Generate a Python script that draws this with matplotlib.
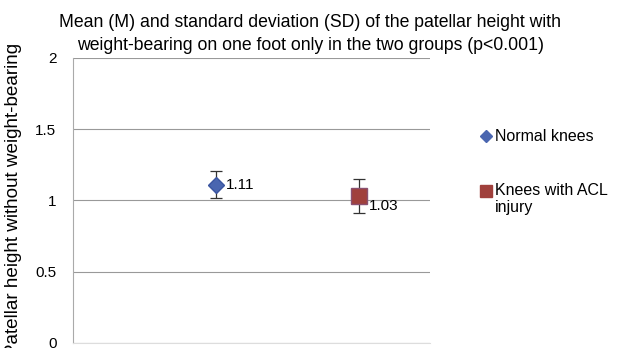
import matplotlib.pyplot as plt
from matplotlib.lines import Line2D

plt.rcParams['font.family'] = ['Liberation Sans', 'DejaVu Sans']

groups = ['Normal knees', 'Knees with ACL\ninjury']
means = [1.11, 1.03]
sds = [0.095, 0.12]
xpos = [1, 2]
labels = ['1.11', '1.03']

fig = plt.figure(figsize=(6.19, 3.48), dpi=100)
ax = fig.add_axes([0.118, 0.0144, 0.577, 0.819])

styles = [dict(marker='D', color='#4a66b0', mec='#3a55a0', ms=8),
          dict(marker='s', color='#a0403c', mec='#8a5070', ms=11)]

for x, m, s, st in zip(xpos, means, sds, styles):
    ax.errorbar(x, m, yerr=s, fmt='none', ecolor='#333333', elinewidth=0.9, capsize=4, capthick=0.9, zorder=3)
    ax.plot(x, m, linestyle='none', zorder=4, **st)

ax.annotate(labels[0], (xpos[0], means[0]), xytext=(7, 0), textcoords='offset points',
            va='center', ha='left', fontsize=11)
ax.annotate(labels[1], (xpos[1], means[1]), xytext=(7, -7), textcoords='offset points',
            va='center', ha='left', fontsize=11)

ax.set_xlim(0, 2.5)
ax.set_ylim(0, 2)
ax.set_yticks([0, 0.5, 1, 1.5, 2])
ax.set_yticklabels(['0', '0.5', '1', '1.5', '2'])
ax.set_xticks([])
ax.yaxis.grid(True, color='#999999', linewidth=0.8)
ax.set_axisbelow(True)
for sp in ['top', 'right']:
    ax.spines[sp].set_visible(False)
ax.spines['bottom'].set_color('#dddddd')
ax.spines['left'].set_color('#aaaaaa')
ax.tick_params(axis='y', length=0, pad=12, labelsize=11)

ax.set_ylabel('Patellar height without weight-bearing', fontsize=13.6)
ax.yaxis.set_label_coords(-0.143, 0.505)

ax.set_title('Mean (M) and standard deviation (SD) of the patellar height with\n'
             'weight-bearing on one foot only in the two groups (p<0.001)',
             fontsize=12.7, x=0.664, pad=6, linespacing=1.45)

# legend drawn by hand to the right of the plot
fig.text(0.80, 0.609, groups[0], fontsize=11.5, va='center')
fig.text(0.80, 0.428, groups[1], fontsize=11.5, va='center', linespacing=1.2)
fig.add_artist(Line2D([0.785], [0.609], transform=fig.transFigure, marker='D',
                      color=styles[0]['color'], ms=6.5, linestyle='none'))
fig.add_artist(Line2D([0.785], [0.451], transform=fig.transFigure, marker='s',
                      color=styles[1]['color'], ms=8.5, linestyle='none'))

fig.savefig('out.png', dpi=100)
